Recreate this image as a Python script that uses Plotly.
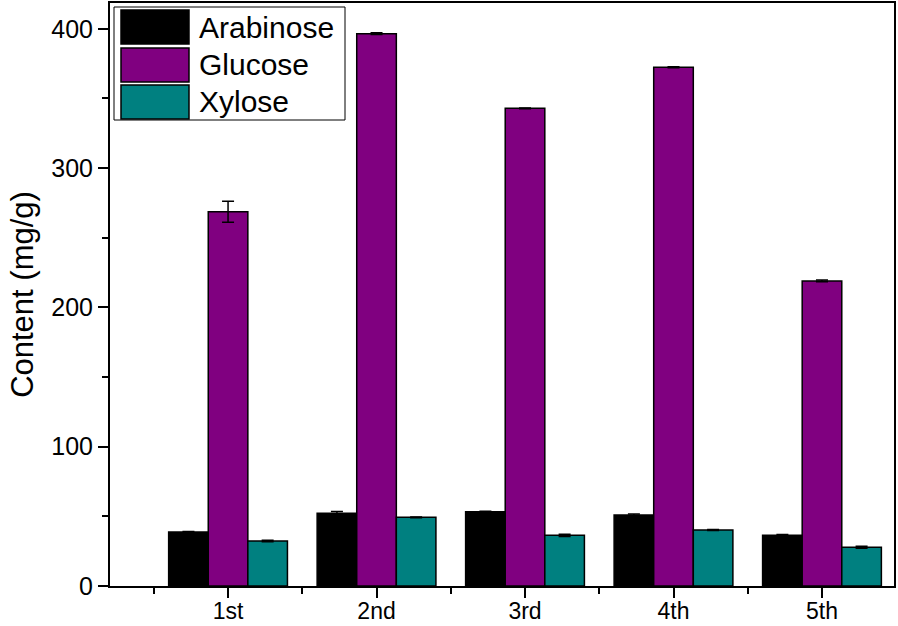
import plotly.graph_objects as go

categories = ["1st", "2nd", "3rd", "4th", "5th"]
positions = [1, 2, 3, 4, 5]
series_names = ["Arabinose", "Glucose", "Xylose"]
arabinose = [38.8, 52.2, 53.3, 51.0, 36.4]
arabinose_err = [0.3, 1.2, 0.4, 0.6, 0.6]
glucose = [268.7, 396.5, 342.9, 372.4, 219.0]
glucose_err = [7.5, 0.6, 0.3, 0.3, 0.6]
xylose = [32.3, 49.3, 36.4, 40.2, 27.8]
xylose_err = [0.5, 0.3, 0.8, 0.4, 0.7]
colors = ["#000000", "#800080", "#008080"]

font_family = "Liberation Sans, Arial, sans-serif"

fig = go.Figure()
for name, vals, errs, col in zip(series_names, [arabinose, glucose, xylose],
                                 [arabinose_err, glucose_err, xylose_err], colors):
    fig.add_trace(go.Bar(
        x=positions, y=vals, name=name,
        marker=dict(color=col, line=dict(color="#000000", width=1.5)),
        error_y=dict(type="data", array=errs, visible=True, color="#000000",
                     thickness=1.5, width=6),
        showlegend=False,
    ))

# Custom legend (box with large swatches), built from the series names/colours
lx0, lx1 = 114, 345
ly0, ly1 = 7, 120
W, H = 898, 626
ml, mr, mt, mb = 110, 4, 3, 40
pw, ph = W - ml - mr, H - mt - mb

def px_x(x):
    return (x - ml) / pw

def px_y(y):
    return 1 - (y - mt) / ph

shapes = [dict(type="rect", xref="paper", yref="paper",
               x0=px_x(lx0), x1=px_x(lx1), y0=px_y(ly1), y1=px_y(ly0),
               line=dict(color="#000000", width=1), fillcolor="white", layer="above")]
annotations = []
row_tops = [10, 48, 85]
for name, col, top in zip(series_names, colors, row_tops):
    shapes.append(dict(type="rect", xref="paper", yref="paper",
                       x0=px_x(121), x1=px_x(189), y0=px_y(top + 34), y1=px_y(top),
                       line=dict(color="#000000", width=1.5), fillcolor=col, layer="above"))
    annotations.append(dict(xref="paper", yref="paper", x=px_x(197), y=px_y(top + 17),
                            text=name, showarrow=False, xanchor="left", yanchor="middle",
                            font=dict(family=font_family, size=30, color="#000000")))

fig.update_layout(
    width=W, height=H,
    margin=dict(l=ml, r=mr, t=mt, b=mb, autoexpand=False),
    paper_bgcolor="white", plot_bgcolor="white",
    barmode="group", bargap=0.2, bargroupgap=0,
    font=dict(family=font_family, color="#000000"),
    shapes=shapes, annotations=annotations,
    xaxis=dict(
        range=[0.205, 5.485], tickmode="array", tickvals=positions, ticktext=categories,
        showline=True, linecolor="#000000", linewidth=2, mirror=True,
        ticks="outside", ticklen=10, tickwidth=2, tickcolor="#000000",
        tickfont=dict(size=23, family=font_family), ticklabelstandoff=-7,
        minor=dict(tickmode="linear", tick0=0.5, dtick=1, ticks="outside",
                   ticklen=6, tickwidth=2, tickcolor="#000000"),
        showgrid=False, zeroline=False, automargin=False,
    ),
    yaxis=dict(
        range=[0, 418.5], tickmode="linear", tick0=0, dtick=100,
        showline=True, linecolor="#000000", linewidth=2, mirror=True,
        ticks="outside", ticklen=10, tickwidth=2, tickcolor="#000000",
        tickfont=dict(size=25, family=font_family),
        minor=dict(tickmode="linear", tick0=50, dtick=100, ticks="outside",
                   ticklen=6, tickwidth=2, tickcolor="#000000"),
        title=dict(text="Content (mg/g)", font=dict(size=31, family=font_family), standoff=8),
        showgrid=False, zeroline=False, automargin=False,
    ),
)

fig.write_html(
    "out.html",
    config={"displayModeBar": False},
    post_script="document.body.style.margin='0';document.body.style.overflow='hidden';",
)
